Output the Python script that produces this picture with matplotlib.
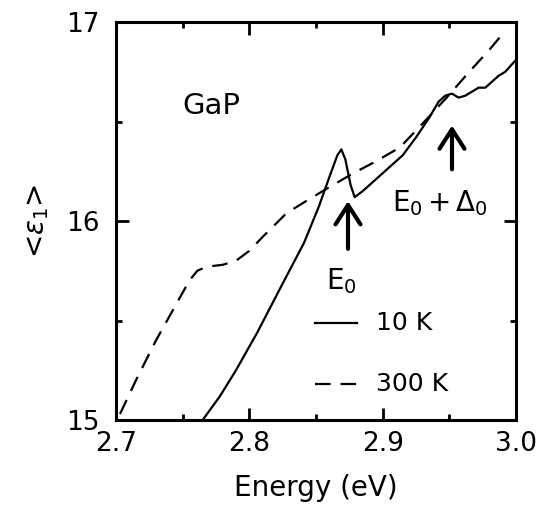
import matplotlib
matplotlib.use("Agg")
import matplotlib.pyplot as plt
from matplotlib.ticker import MultipleLocator

# 300 K (dashed)
e300 = [2.703, 2.715, 2.730, 2.745, 2.755, 2.761, 2.768, 2.780, 2.790, 2.800, 2.810,
        2.828, 2.845, 2.860, 2.878, 2.895, 2.913, 2.930, 2.948, 2.965, 2.980, 2.990]
eps300 = [15.03, 15.20, 15.40, 15.58, 15.70, 15.75, 15.77, 15.78, 15.80, 15.85, 15.92,
          16.04, 16.11, 16.17, 16.24, 16.30, 16.37, 16.49, 16.62, 16.75, 16.86, 16.94]

# 10 K (solid)
e10 = [2.765, 2.778, 2.790, 2.806, 2.823, 2.841, 2.852, 2.860, 2.866, 2.869, 2.872,
       2.876, 2.879, 2.885, 2.895, 2.905, 2.915, 2.925, 2.935, 2.942, 2.947, 2.952,
       2.957, 2.962, 2.967, 2.972, 2.977, 2.982, 2.987, 2.992, 2.996, 3.000]
eps10 = [15.00, 15.12, 15.25, 15.44, 15.66, 15.89, 16.07, 16.22, 16.33, 16.36, 16.31,
         16.18, 16.12, 16.15, 16.21, 16.27, 16.33, 16.42, 16.52, 16.60, 16.63, 16.64,
         16.62, 16.63, 16.65, 16.67, 16.67, 16.70, 16.73, 16.75, 16.78, 16.81]

xticks = [2.7, 2.8, 2.9, 3.0]
xticklabels = ["2.7", "2.8", "2.9", "3.0"]
yticks = [15, 16, 17]
yticklabels = ["15", "16", "17"]

plt.rcParams['font.family'] = ['DejaVu Sans']
plt.rcParams['mathtext.fontset'] = 'dejavusans'

fig = plt.figure(figsize=(5.42, 5.07), dpi=100)
ax = fig.add_axes([0.214, 0.1716, 0.738, 0.785])

ax.plot(e10, eps10, color='black', lw=1.6)
ax.plot(e300, eps300, color='black', lw=1.6, linestyle=(0, (7, 4.5)))

ax.set_xlim(2.7, 3.0)
ax.set_ylim(15, 17)
ax.set_xticks(xticks)
ax.set_xticklabels(xticklabels)
ax.set_yticks(yticks)
ax.set_yticklabels(yticklabels)
ax.xaxis.set_minor_locator(MultipleLocator(0.05))
ax.yaxis.set_minor_locator(MultipleLocator(0.5))
ax.tick_params(which='both', direction='in', top=True, right=True, width=2, labelsize=19)
ax.tick_params(which='major', length=9)
ax.tick_params(axis='x', which='major', pad=8)
ax.tick_params(axis='y', which='major', pad=12)
ax.tick_params(which='minor', length=4.5)
for s in ax.spines.values():
    s.set_linewidth(2.2)

ax.set_xlabel('Energy (eV)', fontsize=20, labelpad=12)
ax.set_ylabel('<' + r'$\varepsilon_\mathregular{1}$' + '>', fontsize=20, labelpad=11)

ax.text(2.750, 16.58, 'GaP', fontsize=21, ha='left', va='center')

# arrows
aprops = dict(arrowstyle='->,head_length=0.7,head_width=0.45', lw=3, color='black',
              mutation_scale=20, shrinkA=0, shrinkB=0)
ax.annotate('', xy=(2.874, 16.10), xytext=(2.874, 15.86), arrowprops=aprops)
ax.annotate('', xy=(2.952, 16.48), xytext=(2.952, 16.26), arrowprops=aprops)
ax.text(2.869, 15.70, r'E$_\mathregular{0}$', fontsize=20, ha='center', va='center')
ax.text(2.943, 16.09, r'E$_\mathregular{0}$' + r'$\,$+$\,$' + r'$\Delta_\mathregular{0}$',
        fontsize=20, ha='center', va='center')

# legend drawn manually
ax.plot([2.849, 2.881], [15.485, 15.485], color='black', lw=1.6)
ax.plot([2.849, 2.881], [15.18, 15.18], color='black', lw=1.6, linestyle=(0, (7, 4.5)))
ax.text(2.895, 15.485, '10 K', fontsize=18, ha='left', va='center')
ax.text(2.895, 15.18, '300 K', fontsize=18, ha='left', va='center')

fig.savefig('out.png', dpi=100)
